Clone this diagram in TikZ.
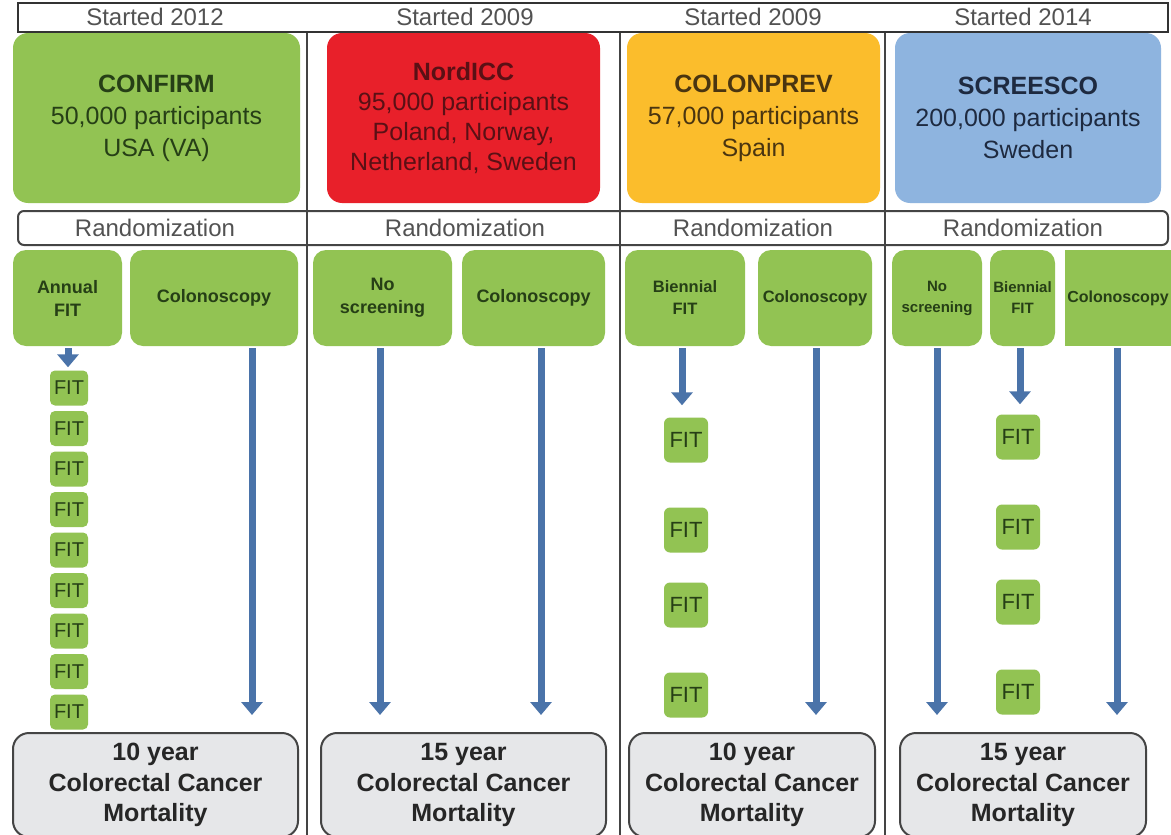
\documentclass[tikz,border=0pt]{standalone}
\usepackage{fontspec}
\setmainfont{Liberation Sans}
\usetikzlibrary{arrows.meta}
\definecolor{gr}{HTML}{92C353}
\definecolor{rd}{HTML}{E8202A}
\definecolor{org}{HTML}{FBBD2C}
\definecolor{bl}{HTML}{8EB4DF}
\definecolor{ab}{HTML}{4A73A9}
\definecolor{gy}{HTML}{E6E7E9}
\definecolor{ln}{HTML}{444444}
\definecolor{gtx}{HTML}{263F16}
\definecolor{rtx}{HTML}{5A1015}
\definecolor{otx}{HTML}{4A3510}
\definecolor{btx}{HTML}{1E2A40}
\begin{document}
\begin{tikzpicture}[x=1pt,y=-1pt,
  study/.style={rounded corners=15pt, minimum height=170pt, align=center, inner sep=0pt},
  arm/.style={fill=gr, rounded corners=13pt, minimum height=96pt, align=center, inner sep=0pt, text=gtx, font=\bfseries\fontsize{18}{23}\selectfont},
  armsm/.style={arm, font=\bfseries\fontsize{16.5}{22}\selectfont},
  fitsm/.style={fill=gr, rounded corners=5pt, minimum width=38pt, minimum height=35pt, inner sep=0pt, text=gtx, font=\fontsize{20}{20}\selectfont},
  fitbig/.style={fill=gr, rounded corners=6pt, minimum width=44pt, minimum height=45pt, inner sep=0pt, text=gtx, font=\fontsize{22}{22}\selectfont},
  mort/.style={fill=gy, draw=ln, line width=2pt, rounded corners=16pt, minimum height=104pt, align=center, inner sep=0pt, text=black!85, font=\bfseries\fontsize{25}{30.5}\selectfont},
  hdrtxt/.style={text=black!68, font=\fontsize{24}{24}\selectfont, inner sep=0pt},
  arr/.style={draw=ab, line width=7pt, -{Triangle[width=21pt,length=13pt]}},
  divider/.style={draw=ln, line width=1.5pt}
]
\clip (0,0) rectangle (1171,835);
\fill[white] (0,0) rectangle (1171,835);

% column dividers
\coordinate (v1t) at (307,32); \coordinate (v1b) at (307,835);
\coordinate (v2t) at (620,32); \coordinate (v2b) at (620,835);
\coordinate (v3t) at (885,32); \coordinate (v3b) at (885,835);
\draw[divider] (v1t) -- (v1b);
\draw[divider] (v2t) -- (v2b);
\draw[divider] (v3t) -- (v3b);

% header
\node[draw=black!80, line width=2.5pt, fill=white, minimum width=1150pt, minimum height=29pt, inner sep=0pt] (hdr) at (593,17.5) {};
\node[hdrtxt] (h1) at (155,17) {Started 2012};
\node[hdrtxt] (h2) at (465,17) {Started 2009};
\node[hdrtxt] (h3) at (753,17) {Started 2009};
\node[hdrtxt] (h4) at (1023,17) {Started 2014};

% study boxes
\node[study, fill=gr, minimum width=287pt, text=gtx, font=\fontsize{25}{32}\selectfont] (s1) at (156.5,118) {\textbf{CONFIRM}\\50,000 participants\\USA (VA)};
\node[study, fill=rd, minimum width=273pt, text=rtx, font=\fontsize{25}{30}\selectfont] (s2) at (463.5,118) {\textbf{NordICC}\\95,000 participants\\Poland, Norway,\\Netherland, Sweden};
\node[study, fill=org, minimum width=253pt, text=otx, font=\fontsize{25}{32}\selectfont] (s3) at (753.5,118) {\textbf{COLONPREV}\\57,000 participants\\Spain};
\node[study, fill=bl, minimum width=266pt, text=btx, font=\fontsize{25}{32}\selectfont] (s4) at (1028,118) {\textbf{SCREESCO}\\200,000 participants\\Sweden};

% randomization row
\node[draw=ln, line width=2pt, rounded corners=6pt, minimum width=1150pt, minimum height=34pt, inner sep=0pt] (rnd) at (593,228) {};
\draw[divider] (307,211) -- (307,245);
\draw[divider] (620,211) -- (620,245);
\draw[divider] (885,211) -- (885,245);
\node[hdrtxt] (r1) at (155,228) {Randomization};
\node[hdrtxt] (r2) at (465,228) {Randomization};
\node[hdrtxt] (r3) at (753,228) {Randomization};
\node[hdrtxt] (r4) at (1023,228) {Randomization};

% arms
\node[arm, minimum width=109pt] (a1) at (67.5,298) {Annual\\FIT};
\node[arm, minimum width=168pt] (a2) at (214,298) {Colonoscopy};
\node[arm, minimum width=139pt] (b1) at (382.5,298) {No\\screening};
\node[arm, minimum width=143pt] (b2) at (533.5,298) {Colonoscopy};
\node[armsm, minimum width=120pt] (c1) at (685,298) {Biennial\\FIT};
\node[armsm, minimum width=114pt] (c2) at (815,298) {Colonoscopy};
\node[armsm, minimum width=90pt, font=\bfseries\fontsize{15}{21}\selectfont] (d1) at (937,298) {No\\screening};
\node[armsm, minimum width=65pt, font=\bfseries\fontsize{15}{21}\selectfont] (d2) at (1022.5,298) {Biennial\\FIT};
\node[armsm, minimum width=106pt, rounded corners=0pt, font=\bfseries\fontsize{16}{22}\selectfont] (d3) at (1118,298) {Colonoscopy};

% outcome boxes
\node[mort, minimum width=285pt] (m1) at (155.5,785) {10 year\\Colorectal Cancer\\Mortality};
\node[mort, minimum width=285pt] (m2) at (463.5,785) {15 year\\Colorectal Cancer\\Mortality};
\node[mort, minimum width=246pt] (m3) at (752,785) {10 year\\Colorectal Cancer\\Mortality};
\node[mort, minimum width=246pt] (m4) at (1023,785) {15 year\\Colorectal Cancer\\Mortality};

% FIT boxes
\foreach \i in {1,...,9} {
  \node[fitsm] (fa\i) at (69,{388+40.5*(\i-1)}) {FIT};
}
\node[fitbig] (fc1) at (686,440) {FIT};
\node[fitbig] (fc2) at (686,530) {FIT};
\node[fitbig] (fc3) at (686,605) {FIT};
\node[fitbig] (fc4) at (686,695) {FIT};
\node[fitbig] (fd1) at (1018,437) {FIT};
\node[fitbig] (fd2) at (1018,527) {FIT};
\node[fitbig] (fd3) at (1018,602) {FIT};
\node[fitbig] (fd4) at (1018,692) {FIT};

% arrow x positions
\coordinate (xa1) at (68,0);
\coordinate (xa2) at (252,0);
\coordinate (xb1) at (380,0);
\coordinate (xb2) at (541,0);
\coordinate (xc1) at (682,0);
\coordinate (xc2) at (816,0);
\coordinate (xd1) at (937,0);
\coordinate (xd2) at (1020,0);
\coordinate (xd3) at (1117,0);

% arrows
\draw[arr, shorten <=2pt, shorten >=3pt] (a1.south -| xa1) -- (fa1.north -| xa1);
\draw[arr, shorten <=2pt, shorten >=17pt] (a2.south -| xa2) -- (m1.north -| xa2);
\draw[arr, shorten <=2pt, shorten >=17pt] (b1.south -| xb1) -- (m2.north -| xb1);
\draw[arr, shorten <=2pt, shorten >=17pt] (b2.south -| xb2) -- (m2.north -| xb2);
\draw[arr, shorten <=2pt, shorten >=12pt] (c1.south -| xc1) -- (fc1.north -| xc1);
\draw[arr, shorten <=2pt, shorten >=17pt] (c2.south -| xc2) -- (m3.north -| xc2);
\draw[arr, shorten <=2pt, shorten >=17pt] (d1.south -| xd1) -- (m4.north -| xd1);
\draw[arr, shorten <=2pt, shorten >=10pt] (d2.south -| xd2) -- (fd1.north -| xd2);
\draw[arr, shorten <=2pt, shorten >=17pt] (d3.south -| xd3) -- (m4.north -| xd3);
\end{tikzpicture}
\end{document}
